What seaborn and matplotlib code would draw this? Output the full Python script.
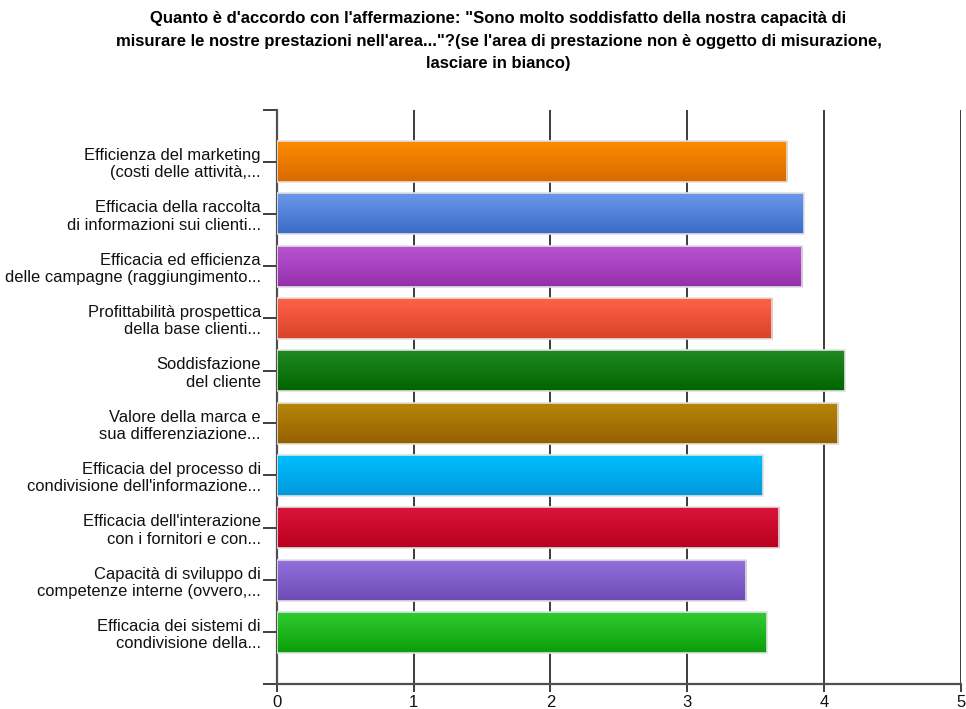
import numpy as np
import pandas as pd
import matplotlib
matplotlib.use("Agg")
import matplotlib.pyplot as plt
import seaborn as sns
from matplotlib.colors import LinearSegmentedColormap

categories = [
    "Efficienza del marketing\n(costi delle attività,...",
    "Efficacia della raccolta\ndi informazioni sui clienti...",
    "Efficacia ed efficienza\ndelle campagne (raggiungimento...",
    "Profittabilità prospettica\ndella base clienti...",
    "Soddisfazione\ndel cliente",
    "Valore della marca e\nsua differenziazione...",
    "Efficacia del processo di\ncondivisione dell'informazione...",
    "Efficacia dell'interazione\ncon i fornitori e con...",
    "Capacità di sviluppo di\ncompetenze interne (ovvero,...",
    "Efficacia dei sistemi di\ncondivisione della...",
]
values = [3.73, 3.85, 3.84, 3.62, 4.15, 4.10, 3.55, 3.67, 3.43, 3.58]
top_colors = ["#FF8C00", "#6A98EC", "#BA55D3", "#FF6347", "#228B22",
              "#B8860B", "#00BFFF", "#DC143C", "#9370DB", "#32CD32"]
bottom_colors = ["#D86A00", "#3A6CC6", "#9430AA", "#D9432A", "#006400",
                 "#956000", "#0098DC", "#B8001E", "#6E4CB6", "#0A9E0A"]
title = ("Quanto è d'accordo con l'affermazione: \"Sono molto soddisfatto della nostra capacità di\n"
         "misurare le nostre prestazioni nell'area...\"?(se l'area di prestazione non è oggetto di misurazione,\n"
         "lasciare in bianco)")

sns.set_theme(style="white")
plt.rcParams['font.family'] = ['Liberation Sans', 'DejaVu Sans']

df = pd.DataFrame({"cat": categories, "val": values})

fig = plt.figure(figsize=(9.66, 7.09), dpi=100)
ax = fig.add_axes([0.2865, 0.0353, 0.7083, 0.8096])

sns.barplot(data=df, y="cat", x="val", hue="cat", palette=top_colors,
            orient="h", width=0.785, legend=False, ax=ax,
            edgecolor="#E2E2E2", linewidth=1.2, zorder=3)

# gradient fill for each bar
for patch, c1, c2 in zip(ax.patches, top_colors, bottom_colors):
    x0, y0 = patch.get_x(), patch.get_y()
    w, h = patch.get_width(), patch.get_height()
    cmap = LinearSegmentedColormap.from_list("g", [c1, c2])
    grad = np.linspace(0, 1, 64).reshape(-1, 1)
    im = ax.imshow(grad, cmap=cmap, aspect="auto",
                   extent=(x0, x0 + w, y0 + h, y0), origin="upper",
                   zorder=3.5, interpolation="bicubic")
    im.set_clip_path(patch)
    patch.set_facecolor("none")
    patch.set_zorder(4)

ax.set_xlim(0, 5)
ax.set_ylim(9.985, -0.985)
ax.set_xticks([0, 1, 2, 3, 4, 5])
ax.set_xticklabels(["0", "1", "2", "3", "4", "5"])
ax.set_yticks([-0.985] + list(range(10)) + [9.985])
ax.set_yticklabels([""] + categories + [""])
ax.set_xlabel("")
ax.set_ylabel("")

ax.grid(axis="x", color="#3C3C3C", linewidth=1.4, zorder=1)
ax.grid(axis="y", visible=False)
for s in ["top", "right"]:
    ax.spines[s].set_visible(False)
for s in ["left", "bottom"]:
    ax.spines[s].set_color("#505050")
    ax.spines[s].set_linewidth(1.6)

ax.tick_params(axis="y", left=True, length=10, width=1.3, color="#303030",
               labelsize=11.9, pad=1.5, labelcolor="#111111")
ax.tick_params(axis="x", bottom=True, length=6, width=1.3, color="#303030",
               labelsize=12, pad=2, labelcolor="#111111")
for lbl in ax.get_yticklabels():
    lbl.set_horizontalalignment("right")
    lbl.set_multialignment("right")
    lbl.set_linespacing(1.2)

fig.text(0.516, 0.984, title, ha="center", va="top", fontsize=12.0,
         fontweight="bold", family=["Liberation Sans", "DejaVu Sans"],
         linespacing=1.62, color="#000000")

fig.savefig("out.png", dpi=100, facecolor="white")
